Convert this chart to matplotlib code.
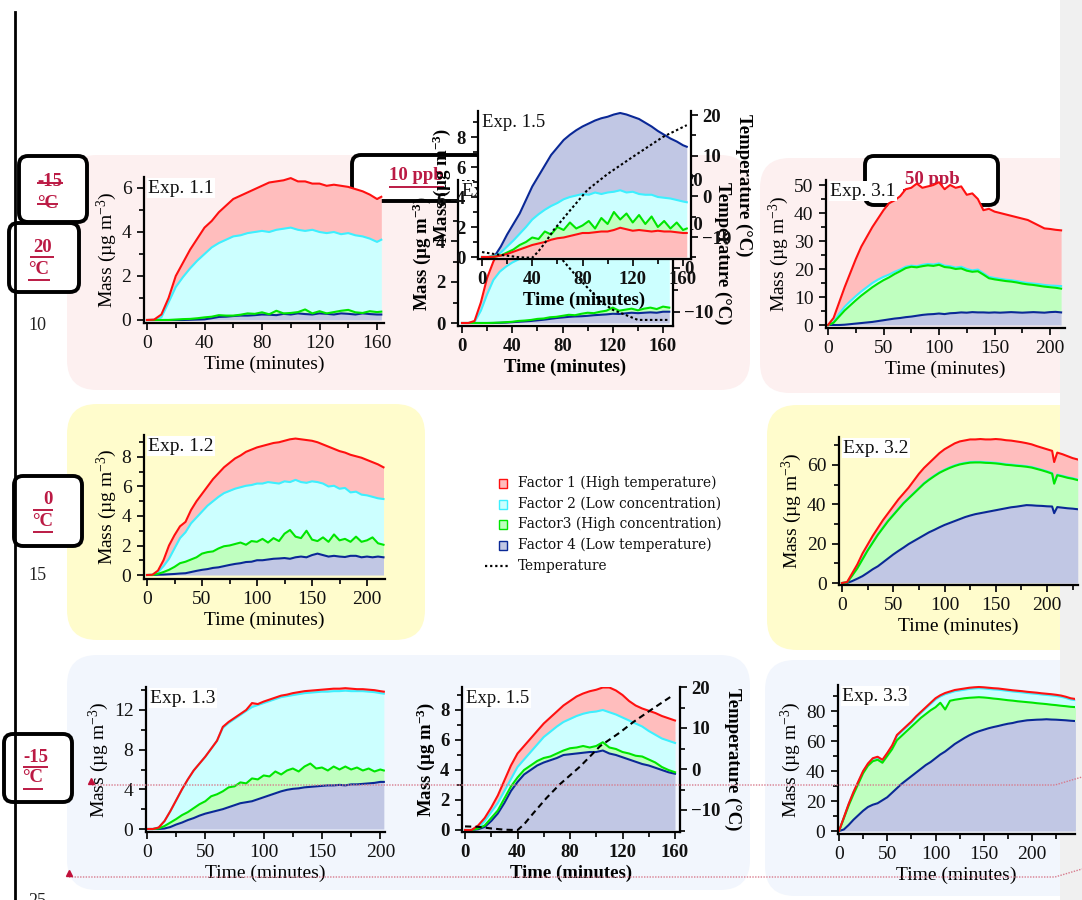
import numpy as np
import matplotlib
matplotlib.use('Agg')
import matplotlib.pyplot as plt
from matplotlib.patches import FancyBboxPatch, Rectangle
from matplotlib.ticker import MultipleLocator

plt.rcParams['font.family'] = ['Liberation Serif', 'DejaVu Serif']
plt.rcParams['mathtext.fontset'] = 'custom'
plt.rcParams['mathtext.rm'] = 'Liberation Serif'
plt.rcParams['mathtext.it'] = 'Liberation Serif:italic'
plt.rcParams['mathtext.bf'] = 'Liberation Serif:bold'

# ---------------------------------------------------------------- data
# cumulative stack tops (mass, ug m-3)
legend_labels = ['Factor 1 (High temperature)', 'Factor 2 (Low concentration)',
                 'Factor3 (High concentration)', 'Factor 4 (Low temperature)', 'Temperature']

# Exp 1.1
t11 = [0,5,10,15,20,25,30,35,40,45,50,55,60,65,70,75,80,85,90,95,100,105,110,115,120,125,130,135,140,145,150,155,160,163]
e11_f4 = [0,0,0,0,0,0,0.01,0.02,0.03,0.08,0.14,0.15,0.18,0.2,0.2,0.22,0.25,0.24,0.22,0.28,0.25,0.3,0.27,0.25,0.3,0.28,0.25,0.3,0.28,0.25,0.3,0.27,0.25,0.25]
e11_f3 = [0,0,0,0,0.02,0.04,0.05,0.08,0.12,0.15,0.22,0.2,0.2,0.24,0.3,0.28,0.35,0.26,0.42,0.3,0.32,0.36,0.48,0.3,0.4,0.3,0.36,0.42,0.46,0.35,0.32,0.4,0.36,0.38]
e11_f2 = [0,0,0.12,0.8,1.5,1.95,2.35,2.7,3.0,3.3,3.5,3.65,3.8,3.85,3.95,4.0,4.05,4.0,4.1,4.15,4.2,4.1,4.05,4.1,4.0,3.95,4.0,3.9,3.95,3.85,3.8,3.7,3.55,3.65]
e11_f1 = [0,0.02,0.25,1.0,2.0,2.6,3.2,3.7,4.2,4.5,4.9,5.2,5.5,5.65,5.8,5.95,6.1,6.25,6.3,6.35,6.45,6.3,6.3,6.2,6.2,6.1,6.15,6.1,6.05,5.95,5.85,5.7,5.5,5.6]

# Exp 1.2
t12 = [0,5,10,15,20,25,30,35,40,45,50,55,60,65,70,75,80,85,90,95,100,105,110,115,120,125,130,135,140,145,150,155,160,165,170,175,180,185,190,195,200,205,210,215]
e12_f4 = [0,0,0.02,0.03,0.05,0.07,0.1,0.12,0.2,0.28,0.35,0.4,0.48,0.52,0.6,0.68,0.75,0.8,0.88,0.9,1.0,1.0,1.05,1.1,1.12,1.15,1.1,1.2,1.25,1.2,1.35,1.45,1.35,1.25,1.3,1.25,1.22,1.3,1.3,1.2,1.25,1.2,1.25,1.2]
e12_f3 = [0,0,0.08,0.2,0.35,0.55,0.8,0.9,1.05,1.2,1.45,1.55,1.6,1.8,1.95,2.0,2.1,2.2,2.05,2.3,2.25,2.45,2.2,2.5,2.3,2.8,3.05,2.6,2.5,3.0,2.4,2.3,2.55,2.25,2.75,2.35,2.45,2.25,2.6,2.25,2.35,2.55,2.15,2.05]
e12_f2 = [0,0.02,0.2,0.6,1.1,1.8,2.5,2.9,3.5,3.9,4.3,4.7,5.0,5.3,5.55,5.7,5.85,5.95,6.05,6.1,6.2,6.2,6.3,6.25,6.2,6.35,6.3,6.45,6.3,6.25,6.35,6.3,6.2,6.0,6.05,5.85,5.9,5.6,5.65,5.45,5.4,5.3,5.2,5.15]
e12_f1 = [0,0.02,0.3,1.0,2.0,2.7,3.3,3.6,4.4,5.0,5.5,6.0,6.5,6.9,7.3,7.6,7.9,8.1,8.35,8.5,8.65,8.75,8.85,8.95,9.0,9.1,9.2,9.25,9.2,9.15,9.1,9.0,8.85,8.7,8.55,8.4,8.3,8.15,8.05,7.95,7.8,7.65,7.5,7.3]

# Exp 1.3
t13 = [0,5,10,15,20,25,30,35,40,45,50,55,60,65,70,75,80,85,90,95,100,105,110,115,120,125,130,135,140,145,150,155,160,165,170,175,180,185,190,195,200,203]
e13_f4 = [0,0,0,0.05,0.2,0.45,0.65,0.9,1.1,1.35,1.55,1.7,1.85,2.0,2.2,2.4,2.6,2.7,2.8,3.0,3.2,3.4,3.6,3.8,3.95,4.05,4.1,4.2,4.25,4.3,4.35,4.4,4.4,4.45,4.4,4.5,4.5,4.55,4.6,4.65,4.75,4.75]
e13_f3 = [0,0,0.05,0.3,0.65,1.0,1.4,1.7,2.1,2.5,2.8,3.3,3.5,3.8,4.2,4.3,4.7,4.6,5.1,5.0,5.4,5.3,5.8,5.5,5.9,6.1,5.8,6.3,6.6,6.1,6.2,5.9,6.3,6.0,6.3,6.0,6.2,5.9,6.1,5.8,6.0,5.9]
e13_f2 = [0,0,0.15,0.8,1.8,2.9,4.0,5.0,5.9,6.6,7.3,8.1,8.9,10.2,10.7,11.1,11.5,11.9,12.3,12.5,12.7,12.9,13.1,13.3,13.4,13.5,13.6,13.7,13.75,13.8,13.85,13.85,13.9,13.9,13.95,13.9,13.9,13.9,13.85,13.8,13.7,13.65]
e13_f1 = [0,0,0.15,0.8,1.8,2.9,4.0,5.0,5.9,6.6,7.3,8.1,8.9,10.3,10.8,11.2,11.6,12.0,12.7,12.6,12.85,13.05,13.25,13.45,13.55,13.7,13.8,13.9,13.95,14.0,14.05,14.1,14.15,14.15,14.2,14.15,14.1,14.1,14.05,14.0,13.9,13.85]

# Exp 1.4 (partly hidden behind Exp 1.5)
t14 = [0,5,10,15,20,25,30,35,40,45,50,55,60,65,70,75,80,85,90,95,100,105,110,115,120,125,130,135,140,145,150,155,160,165]
e14_f4 = [0,0,0,0,0,0,0.01,0.02,0.04,0.06,0.08,0.1,0.13,0.16,0.2,0.24,0.27,0.3,0.32,0.33,0.35,0.38,0.4,0.42,0.45,0.44,0.47,0.5,0.48,0.5,0.52,0.5,0.55,0.55]
e14_f3 = [0,0,0,0,0,0.01,0.02,0.04,0.06,0.1,0.12,0.15,0.2,0.22,0.28,0.3,0.35,0.4,0.38,0.45,0.5,0.48,0.55,0.6,0.75,0.6,0.65,0.7,0.62,0.7,0.75,0.68,0.8,0.75]
e14_f2 = [0,0,0.05,0.6,1.4,2.1,2.5,2.75,2.95,3.1,3.25,3.4,3.5,3.6,3.7,3.75,3.8,3.85,3.9,3.9,3.9,3.95,3.9,3.9,3.85,3.85,3.8,3.8,3.75,3.75,3.7,3.7,3.65,3.65]
e14_f1 = [0,0,0.1,1.0,2.2,3.0,3.6,4.0,4.3,4.5,4.7,4.8,4.9,5.0,5.05,5.1,5.1,5.15,5.2,5.2,5.15,5.1,5.1,5.05,5.0,4.95,4.9,4.85,4.8,4.75,4.7,4.65,4.6,4.6]
t14_temp = [0,40,50,60,70,78,90,100,110,120,134,140,165]
e14_temp = [20,20,16,11,6,2.5,-1.5,-4.5,-7.5,-9.5,-11.1,-11.8,-11.8]

# Exp 1.5 (upper copy, different factor stacking: F1, F3, F2, F4)
t15a = [0,5,10,15,20,25,30,35,40,45,50,55,60,65,70,75,80,85,90,95,100,105,110,115,120,125,130,135,140,145,150,155,160,163]
e15a_f1 = [0,0,0.02,0.1,0.2,0.35,0.5,0.65,0.8,0.9,1.0,1.15,1.25,1.3,1.4,1.5,1.6,1.6,1.65,1.7,1.7,1.8,1.95,1.85,1.75,1.8,1.75,1.7,1.75,1.7,1.7,1.65,1.6,1.6]
e15a_f3 = [0,0,0.02,0.1,0.3,0.5,0.8,1.0,1.3,1.2,1.7,1.5,2.0,1.8,2.3,1.9,2.1,2.4,1.9,2.6,2.2,3.0,2.5,2.9,2.3,2.8,2.2,2.7,2.0,2.4,1.9,2.3,1.8,1.9]
e15a_f2 = [0,0,0.05,0.3,0.7,1.1,1.55,2.0,2.5,2.85,3.15,3.4,3.6,3.85,4.0,4.1,4.2,4.15,4.3,4.2,4.3,4.35,4.45,4.3,4.35,4.2,4.15,4.15,4.0,3.95,3.9,3.8,3.7,3.65]
e15a_f4 = [0,0,0.05,0.7,1.5,2.2,2.9,3.8,4.7,5.4,6.1,6.8,7.3,7.8,8.15,8.45,8.7,8.9,9.1,9.25,9.35,9.5,9.6,9.5,9.35,9.2,8.95,8.7,8.4,8.15,7.9,7.7,7.45,7.35]
t15a_temp = [0,10,20,30,40,45,50,57,70,84,100,120,144,163]
e15a_temp = [-13.7,-14.2,-14.6,-15.0,-15.1,-13.5,-11.5,-8.3,-3.5,1.6,5.5,9.7,14.6,17.5]

# Exp 1.5 (lower panel)
t15 = [0,5,10,15,20,25,30,35,40,45,50,55,60,65,70,75,80,85,90,95,100,105,110,115,120,125,130,135,140,145,150,155,160]
e15_f4 = [0,0,0.05,0.2,0.6,1.1,1.8,2.6,3.2,3.7,4.0,4.3,4.5,4.65,4.8,5.0,5.05,5.1,5.15,5.2,5.2,5.3,5.1,5.0,4.85,4.7,4.55,4.4,4.3,4.15,4.0,3.85,3.75]
e15_f3 = [0,0,0.1,0.3,0.8,1.3,2.1,2.9,3.5,4.0,4.3,4.6,4.8,4.9,5.1,5.3,5.45,5.5,5.6,5.5,5.6,5.85,5.5,5.4,5.2,5.1,4.95,4.9,4.7,4.5,4.2,4.0,3.85]
e15_f2 = [0,0,0.15,0.6,1.2,1.8,2.6,3.4,4.2,4.7,5.2,5.7,6.2,6.55,6.9,7.2,7.4,7.6,7.75,7.85,7.9,8.0,7.85,7.7,7.5,7.3,7.1,6.9,6.6,6.35,6.1,5.95,5.8]
e15_f1 = [0,0,0.3,0.8,1.5,2.3,3.3,4.3,5.1,5.6,6.1,6.6,7.1,7.5,7.9,8.3,8.6,8.9,9.1,9.25,9.35,9.5,9.5,9.3,9.0,8.6,8.3,8.1,7.95,7.8,7.6,7.45,7.3]
t15_temp = [0,10,20,30,40,45,52,62,72,88,103,118,128,143,159]
e15_temp = [-14.0,-14.1,-14.5,-14.8,-14.9,-13.5,-10.8,-7.1,-3.8,0.7,5.6,8.9,11.4,14.7,18.1]

# Exp 3.1
t31 = [0,5,10,15,20,25,30,35,40,45,50,55,60,65,70,75,80,85,90,95,100,105,110,115,120,125,130,135,140,145,150,155,160,165,170,175,180,185,190,195,200,205,210]
e31_f4 = [0,0,0,0.1,0.3,0.5,0.7,0.9,1.1,1.4,1.7,2.0,2.3,2.5,2.8,3.0,3.3,3.6,3.8,3.9,4.1,3.9,4.2,4.3,4.5,4.4,4.6,4.5,4.5,4.4,4.5,4.4,4.5,4.6,4.5,4.4,4.5,4.6,4.5,4.4,4.6,4.7,4.5]
e31_f3 = [0,0.8,3.0,5.2,7.0,8.8,10.5,12.0,13.5,14.8,16.0,17.0,18.2,19.2,20.3,20.8,20.6,21.0,21.3,21.1,21.5,20.7,20.5,20.0,20.2,19.4,19.0,19.2,18.0,16.7,16.3,16.0,15.7,15.5,15.2,14.8,14.5,14.3,14.0,13.7,13.5,13.3,13.0]
e31_f2 = [0,1.0,4.0,6.5,8.5,10.3,12.0,13.5,15.0,16.2,17.2,18.0,19.0,19.8,20.8,21.2,21.0,21.5,21.8,21.6,22.0,21.2,21.0,20.5,20.8,20.0,19.5,19.8,18.5,17.2,16.8,16.5,16.2,16.0,15.7,15.3,15.0,14.8,14.6,14.3,14.1,14.0,13.9]
e31_f1 = [0,2.5,8,13.5,18.5,23.5,28,31.5,35,38,41,43.5,44.5,46,48.5,49,50.5,49,49.5,50,51,48.5,50,49,49.5,46.5,47,45,41,41.5,40.5,40,39.5,39,38.5,38,37.5,36.5,35.5,34.5,34.3,34,33.8]

# Exp 3.2
t32 = [0,5,10,15,20,25,30,35,40,45,50,55,60,65,70,75,80,85,90,95,100,105,110,115,120,125,130,135,140,145,150,155,160,165,170,175,180,185,190,195,200,205,207,210,215,220,225,230]
e32_f4 = [0,0,1.0,2.2,3.5,5.2,7.0,8.5,10.5,12.5,14.5,16.3,18.0,19.8,21.3,22.8,24.3,25.8,27.0,28.3,29.5,30.5,31.5,32.5,33.5,34.3,35.0,35.5,36.0,36.5,37.0,37.5,38.0,38.5,38.8,39.2,39.6,39.5,39.3,39.2,39.0,38.9,35.5,38.6,38.3,38.0,37.8,37.5]
e32_f3 = [0,0.3,3.8,7.5,12,16.5,20.5,24.5,28,31.5,34.5,37.5,40.5,43,45.5,48,50.5,52.5,54.3,56,57.3,58.5,59.5,60.3,60.8,61.2,61.3,61.3,61.1,61.0,60.8,60.5,60.1,59.9,59.6,59.4,59.1,58.7,58.0,57.3,56.5,55.6,50.5,54.8,54.2,53.5,53.0,52.3]
e32_f2 = [0,0.3,4.0,7.8,12.3,16.8,20.8,24.8,28.3,31.8,34.8,37.8,40.8,43.3,45.8,48.3,50.8,52.8,54.6,56.3,57.6,58.8,59.8,60.6,61.1,61.5,61.6,61.6,61.4,61.3,61.1,60.8,60.4,60.2,59.9,59.7,59.4,59.0,58.3,57.6,56.8,55.9,50.8,55.1,54.5,53.8,53.3,52.6]
e32_f1 = [0,0.5,5,9.5,15,19.5,24,28,32,35.5,39,42.5,45.5,48.5,52,55.5,58.5,61,63.5,66,68,69.5,71,72,72.5,73,73,73.2,73,73,73.2,73,72.6,72.4,72,71.6,71.1,70.5,69.6,68.8,68,67.2,61.5,66.3,65.5,64.5,63.5,62.8]

# Exp 3.3
t33 = [0,5,10,15,20,25,30,35,40,45,50,55,60,65,70,75,80,85,90,95,100,105,110,115,120,125,130,135,140,145,150,155,160,165,170,175,180,185,190,195,200,205,210,215,220,225,230,235,240,245]
e33_f4 = [0,1,4,7.5,10.5,13.5,16,17.5,18.5,20.5,22.5,25.5,28.5,31.5,34,36.5,39,41.5,44,46,48.5,51,53,55.5,58,60,62,63.8,65.3,66.5,67.5,68.5,69.3,70,70.8,71.5,72,72.8,73.3,73.8,74,74.2,74.3,74.5,74.3,74.2,74,73.8,73.5,73.3]
e33_f3 = [0,8.5,17,24.5,31.5,38.5,43.5,46.5,47.5,45.5,50,54.5,60.5,63.5,66.5,69.5,72.5,75.5,78,80.5,82.5,85.5,81,86.8,87.5,88,88.5,88.8,89,89.2,89,88.7,88.3,88,87.6,87.2,86.9,86.5,86.2,85.9,85.6,85.2,84.9,84.6,84.2,83.9,83.5,83.2,82.8,82.6]
e33_f2 = [0,8.8,17.8,25.7,32.7,39.6,44.5,48,49,47,51.5,56.3,63.3,66.3,69.3,72.3,75.8,78.8,81.8,84.8,87.7,89.7,91.2,92.2,93.2,93.7,94.2,94.7,95.0,95.2,95.0,94.7,94.4,94.2,93.8,93.4,93.0,92.7,92.4,92.0,91.7,91.4,91.0,90.7,90.4,90.0,89.5,88.7,87.7,87.2]
e33_f1 = [0,9,18,26,33,40,45,48.5,49.5,47.5,52,57,64,67,70,73,76.5,79.5,82.5,85.5,88.5,90.5,92,93,94,94.5,95,95.5,95.8,96,95.8,95.5,95.2,95,94.6,94.2,93.8,93.5,93.2,92.8,92.5,92.2,91.8,91.5,91.2,90.8,90.3,89.5,88.5,88]

# ---------------------------------------------------------------- style
LINE = {'f1': '#ff1010', 'f2': '#3cf0ff', 'f3': '#00e600', 'f4': '#0a2896'}
FILL = {'f1': '#ffbdbd', 'f2': '#ccffff', 'f3': '#bfffbf', 'f4': '#c1c7e4'}
LZ = {'f4': 2.1, 'f2': 2.2, 'f3': 2.3, 'f1': 2.4}
CRIMSON = '#bb1a44'
FS = 14

W, H = 1082, 900
fig = plt.figure(figsize=(W / 100, H / 100), dpi=100)
fig.patch.set_facecolor('white')

bg = fig.add_axes([0, 0, 1, 1], zorder=0)
bg.set_xlim(0, W); bg.set_ylim(H, 0); bg.axis('off')
ov = fig.add_axes([0, 0, 1, 1], zorder=20)
ov.set_xlim(0, W); ov.set_ylim(H, 0); ov.axis('off'); ov.patch.set_visible(False)

# document line numbers (behind panels)
for txt, x, y in [('5', 80, 163), ('10', 37, 325), ('15', 37, 575), ('25', 37, 902)]:
    bg.text(x, y, txt, fontsize=13, ha='center', va='center', color='#222222', zorder=0.5)

# rounded coloured panels
panels = [(67, 155, 683, 235, '#fdf0f0'), (760, 158, 330, 235, '#fdf0f0'),
          (67, 404, 358, 236, '#fffccc'), (767, 405, 330, 245, '#fffccc'),
          (67, 655, 683, 235, '#f2f6fd'), (765, 660, 330, 236, '#f2f6fd')]
for x, y, w, h, c in panels:
    bg.add_patch(FancyBboxPatch((x, y), w, h, boxstyle='round,pad=0,rounding_size=30',
                                fc=c, ec='none', zorder=1))
bg.add_patch(Rectangle((1060, 0), 22, H, fc='#f0f0f0', ec='none', zorder=1.5))

# labelled boxes
def label_box(x, y, w, h):
    bg.add_patch(FancyBboxPatch((x, y), w, h, boxstyle='round,pad=0,rounding_size=9',
                                fc='white', ec='black', lw=2.8, zorder=2))

def red_text(x, y, s, x1, x2, yl):
    bg.text(x, y, s, color=CRIMSON, fontsize=13.5, fontweight='bold', ha='center', va='center', zorder=3)
    bg.plot([x1, x2], [yl, yl], color=CRIMSON, lw=1.4, zorder=3, solid_capstyle='butt')

label_box(19, 156, 68, 66)
red_text(50, 182, '-15', 37, 63, 183)
red_text(48, 203, '°C', 37, 58, 204)
label_box(9, 223, 70, 69)
red_text(43, 247, '20', 30, 54, 257)
red_text(39, 269, '°C', 28, 50, 280)
label_box(14, 476, 68, 70)
red_text(48, 499, '0', 33, 53, 510)
red_text(43, 521, '°C', 33, 53, 532)
label_box(4, 734, 68, 68)
red_text(36, 757, '-15', 23, 48, 767)
red_text(33, 778, '°C', 23, 43, 789)
label_box(352, 155, 133, 46)
red_text(416, 176, '10 ppb', 389, 444, 187)
label_box(865, 156, 133, 49)
red_text(932, 179, '50 ppb', 903, 960, 190)

# legend
leg_keys = ['f1', 'f2', 'f3', 'f4']
leg_y = [483, 504, 524, 545]
for k, y, lab in zip(leg_keys, leg_y, legend_labels[:4]):
    bg.add_patch(Rectangle((499, y - 4.5), 8, 9, fc=FILL[k], ec=LINE[k], lw=1.0, zorder=3))
    bg.text(518, y, lab, fontsize=9.9, family='DejaVu Serif', va='center', ha='left', color='#111111', zorder=3)
bg.plot([485, 510], [566, 566], color='k', lw=1.6, ls=(0, (1, 1.3)), zorder=3)
bg.text(518, 566, legend_labels[4], fontsize=9.9, family='DejaVu Serif', va='center', ha='left',
        color='#111111', zorder=3)

# overlay marks (document change-tracking lines, margin rule)
ov.plot([15, 15], [12, 900], color='black', lw=2)
ov.plot([92, 1055, 1082], [785, 785, 777], color='#d77a8c', lw=1.0, ls=(0, (1, 1)))
ov.plot([69, 1055, 1082], [877, 877, 869], color='#d77a8c', lw=1.0, ls=(0, (1, 1)))
ov.plot([91, 69], [781, 873], ls='none', marker='^', ms=5, color='#c0103a')


# ---------------------------------------------------------------- helpers
def xlims(l, r, cal):
    (v1, p1), (v2, p2) = cal
    s = (p2 - p1) / (v2 - v1)
    return v1 + (l - p1) / s, v1 + (r - p1) / s


def ylims(t, b, cal):
    (v1, p1), (v2, p2) = cal
    s = (p1 - p2) / (v2 - v1)
    return v1 - (b - p1) / s, v1 + (p1 - t) / s


def boldify(labels):
    for lab in labels:
        lab.set_fontweight('bold')


def panel(box, xcal, ycal, t, layers, exp, xmaj, ymaj, bold=False, face='none', z=2, fs=FS):
    l, tp, r, b = box
    ax = fig.add_axes([l / W, 1 - b / H, (r - l) / W, (b - tp) / H], zorder=z)
    ax.set_facecolor(face)
    if face == 'none':
        ax.patch.set_visible(False)
    lower = np.zeros(len(t))
    for key, vals in layers:
        v = np.asarray(vals, dtype=float)
        ax.fill_between(t, lower, v, color=FILL[key], lw=0, zorder=1)
        lower = v
    for key, vals in layers:
        ax.plot(t, vals, color=LINE[key], lw=1.5, zorder=LZ[key])
    ax.set_xlim(*xlims(l, r, xcal))
    ax.set_ylim(*ylims(tp, b, ycal))
    for s in ['top', 'right']:
        ax.spines[s].set_visible(False)
    for s in ['left', 'bottom']:
        ax.spines[s].set_linewidth(1.6)
    ax.xaxis.set_major_locator(MultipleLocator(xmaj))
    ax.xaxis.set_minor_locator(MultipleLocator(xmaj / 2))
    ax.yaxis.set_major_locator(MultipleLocator(ymaj))
    ax.yaxis.set_minor_locator(MultipleLocator(ymaj / 2))
    ax.tick_params(which='both', direction='out', width=1.3, labelsize=fs, colors='#111111')
    ax.tick_params(axis='x', which='both', pad=3.5)
    ax.tick_params(axis='y', which='both', pad=4)
    ax.tick_params(which='major', length=5)
    ax.tick_params(which='minor', length=3.5)
    w = 'bold' if bold else 'normal'
    ax.set_xlabel('Time (minutes)', fontsize=fs, fontweight=w, labelpad=2.5)
    ylab = r'Mass (µg m$^{\mathbf{-3}}$)' if bold else r'Mass (µg m$^{-3}$)'
    ax.set_ylabel(ylab, fontsize=fs, fontweight=w, labelpad=2)
    if bold:
        boldify(ax.get_xticklabels() + ax.get_yticklabels())
    ax.annotate(exp, xy=(0, 1), xycoords='axes fraction', xytext=(3, -2), textcoords='offset points',
                ha='left', va='top', fontsize=fs, color='#111111', zorder=5,
                bbox=dict(boxstyle='square,pad=0.08', fc='white', ec='none'))
    return ax


def temp_axis(ax, box, tcal, tt, temp, ls, lpad, fs=FS):
    l, tp, r, b = box
    tw = ax.twinx()
    tw.set_zorder(ax.get_zorder() + 0.1)
    tw.plot(tt, temp, color='black', lw=1.5, ls=ls)
    tw.set_ylim(*ylims(tp, b, tcal))
    for s in ['top', 'left', 'bottom']:
        tw.spines[s].set_visible(False)
    tw.spines['right'].set_linewidth(1.6)
    tw.yaxis.set_major_locator(MultipleLocator(10))
    tw.yaxis.set_minor_locator(MultipleLocator(5))
    tw.tick_params(which='both', direction='out', width=1.3, labelsize=fs, pad=3, colors='#111111')
    tw.tick_params(which='major', length=5)
    tw.tick_params(which='minor', length=3.5)
    tw.set_ylabel('Temperature (°C)', rotation=270, fontsize=fs, fontweight='bold', labelpad=lpad)
    boldify(tw.get_yticklabels())
    return tw


# ---------------------------------------------------------------- panels
std = lambda f4, f3, f2, f1: [('f4', f4), ('f3', f3), ('f2', f2), ('f1', f1)]

panel((144, 177, 384, 323), ((0, 147), (160, 377)), ((0, 320), (6, 188)), t11,
      std(e11_f4, e11_f3, e11_f2, e11_f1), 'Exp. 1.1', 40, 2)

panel((144, 435, 385, 579), ((0, 147), (200, 367)), ((0, 575), (8, 457)), t12,
      std(e12_f4, e12_f3, e12_f2, e12_f1), 'Exp. 1.2', 50, 2)

panel((146, 687, 385, 832), ((0, 147), (150, 322)), ((0, 829), (12, 710)), t13,
      std(e13_f4, e13_f3, e13_f2, e13_f1), 'Exp. 1.3', 50, 4)

b14 = (458, 180, 673, 326)
a14 = panel(b14, ((0, 462), (160, 663)), ((0, 323), (2, 282)), t14,
            std(e14_f4, e14_f3, e14_f2, e14_f1), 'Exp. 1.4', 40, 2, bold=True, face='white', z=2, fs=13.5)
temp_axis(a14, b14, ((20, 180), (-10, 312)), t14_temp, e14_temp, (0, (1.2, 1.2)), 13, fs=13.5)

b15a = (478, 111, 691, 259)
a15a = panel(b15a, ((0, 482), (160, 683)), ((0, 257), (8, 137)), t15a,
             [('f1', e15a_f1), ('f3', e15a_f3), ('f2', e15a_f2), ('f4', e15a_f4)],
             'Exp. 1.5', 40, 2, bold=True, face='white', z=3, fs=13.5)
temp_axis(a15a, b15a, ((20, 115), (-10, 237)), t15a_temp, e15a_temp, (0, (1.2, 1.2)), 15, fs=13.5)

b15 = (462, 687, 680, 832)
a15 = panel(b15, ((0, 465), (160, 675)), ((0, 830), (8, 710)), t15,
            std(e15_f4, e15_f3, e15_f2, e15_f1), 'Exp. 1.5', 40, 2, bold=True, fs=13.5)
temp_axis(a15, b15, ((20, 687), (-10, 810)), t15_temp, e15_temp, (0, (3, 2)), 15, fs=13.5)

panel((826, 180, 1065, 328), ((0, 828), (200, 1050)), ((0, 325), (50, 185)), t31,
      std(e31_f4, e31_f3, e31_f2, e31_f1), 'Exp. 3.1', 50, 10)

panel((839, 437, 1078, 585), ((0, 842), (200, 1047)), ((0, 583), (60, 465)), t32,
      std(e32_f4, e32_f3, e32_f2, e32_f1), 'Exp. 3.2', 50, 20)

panel((838, 685, 1075, 834), ((0, 839), (200, 1032)), ((0, 831), (80, 711)), t33,
      std(e33_f4, e33_f3, e33_f2, e33_f1), 'Exp. 3.3', 50, 20)

fig.savefig('out.png', dpi=100)
